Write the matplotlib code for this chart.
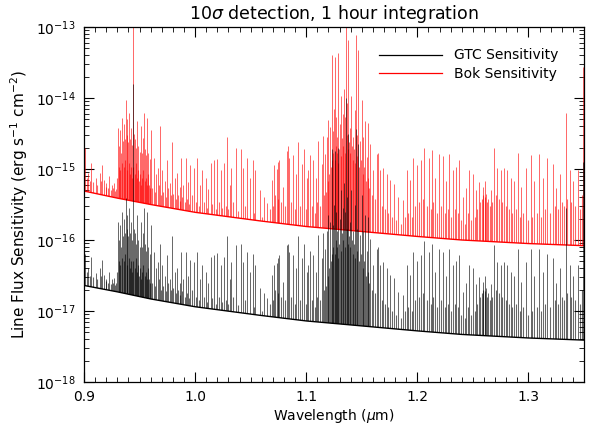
import numpy as np
import matplotlib
matplotlib.use("Agg")
import matplotlib.pyplot as plt
from matplotlib.patches import Polygon
from matplotlib.lines import Line2D
from matplotlib.ticker import MultipleLocator, FixedLocator, FormatStrFormatter, NullFormatter

# continuum floor of each curve, log10(flux) read at a few wavelengths
base_wl = [0.900, 0.930, 0.960, 1.000, 1.058, 1.100, 1.150, 1.200, 1.240, 1.300, 1.350]
gtc_base = [-16.64, -16.73, -16.83, -16.94, -17.06, -17.14, -17.21, -17.28, -17.33, -17.38, -17.41]
bok_base = [-15.31, -15.41, -15.50, -15.61, -15.73, -15.81, -15.88, -15.95, -16.00, -16.05, -16.08]

# strong sky lines: position (micron) and peak log10(flux) for each telescope
line_wl = [
    0.9010, 0.9040, 0.9066, 0.9105, 0.9140, 0.9160, 0.9180, 0.9200, 0.9225, 0.9250, 0.9270, 0.9290,
    0.9310, 0.9318, 0.9324, 0.9335, 0.9345, 0.9352, 0.9360, 0.9368, 0.9375, 0.9383, 0.9390, 0.9398,
    0.9405, 0.9415, 0.9425, 0.9435, 0.9444, 0.9452, 0.9462, 0.9470, 0.9480, 0.9490, 0.9500, 0.9510,
    0.9518, 0.9528, 0.9540, 0.9550, 0.9560, 0.9570, 0.9580, 0.9590, 0.9600, 0.9630, 0.9650, 0.9666,
    0.9685, 0.9705, 0.9725, 0.9744, 0.9770, 0.9795, 0.9815, 0.9840, 0.9860, 0.9876, 0.9895, 0.9915,
    0.9935, 0.9954, 0.9990, 1.0020, 1.0045, 1.0065, 1.0095, 1.0120, 1.0140, 1.0170, 1.0200, 1.0230,
    1.0260, 1.0290, 1.0310, 1.0326, 1.0365, 1.0410, 1.0434, 1.0470, 1.0495, 1.0518, 1.0540, 1.0584,
    1.0620, 1.0650, 1.0689, 1.0710, 1.0734, 1.0750, 1.0758, 1.0794, 1.0824, 1.0840, 1.0848, 1.0884,
    1.0910, 1.0929, 1.0959, 1.0980, 1.1005, 1.1019, 1.1034, 1.1064, 1.1085, 1.1109, 1.1139, 1.1154,
    1.1169, 1.1190, 1.1200, 1.1214, 1.1229, 1.1238, 1.1250, 1.1260, 1.1270, 1.1280, 1.1290, 1.1304,
    1.1315, 1.1328, 1.1340, 1.1350, 1.1358, 1.1368, 1.1380, 1.1392, 1.1405, 1.1424, 1.1436, 1.1448,
    1.1454, 1.1470, 1.1484, 1.1500, 1.1514, 1.1530, 1.1544, 1.1560, 1.1574, 1.1604, 1.1634, 1.1650,
    1.1664, 1.1694, 1.1724, 1.1754, 1.1790, 1.1829, 1.1874, 1.1904, 1.1934, 1.1964, 1.1994, 1.2033,
    1.2063, 1.2108, 1.2130, 1.2162, 1.2198, 1.2234, 1.2260, 1.2288, 1.2324, 1.2350, 1.2378, 1.2408,
    1.2440, 1.2468, 1.2500, 1.2528, 1.2555, 1.2588, 1.2605, 1.2620, 1.2640, 1.2660, 1.2693, 1.2720,
    1.2750, 1.2780, 1.2810, 1.2840, 1.2870, 1.2903, 1.2935, 1.2978, 1.3023, 1.3050, 1.3098, 1.3130,
    1.3164, 1.3218, 1.3250, 1.3280, 1.3335, 1.3370, 1.3400, 1.3443, 1.3494,
]
gtc_peak = [
    -16.20, -16.40, -16.24, -16.47, -16.40, -16.28, -16.49, -16.55, -16.45, -16.55, -16.54, -16.60,
    -15.74, -16.00, -15.79, -16.10, -15.60, -15.95, -15.70, -15.90, -15.41, -15.85, -15.65, -15.95,
    -15.55, -15.90, -15.75, -16.00, -13.80, -15.85, -15.90, -16.05, -15.65, -16.00, -16.10, -15.74,
    -16.10, -15.90, -15.55, -16.05, -16.15, -15.60, -16.10, -16.20, -15.79, -16.17, -16.40, -16.31,
    -16.05, -16.35, -16.50, -16.21, -16.55, -15.95, -16.45, -16.40, -16.60, -16.17, -16.55, -16.17,
    -16.50, -16.28, -16.31, -16.17, -16.55, -16.35, -16.45, -16.60, -16.24, -16.21, -16.19, -16.35,
    -16.24, -15.95, -16.55, -16.31, -16.07, -16.06, -16.31, -16.17, -16.45, -16.20, -16.35, -16.68,
    -16.75, -16.82, -16.49, -16.35, -16.33, -16.25, -16.21, -16.59, -16.07, -16.05, -16.17, -16.21,
    -16.40, -15.95, -16.26, -16.05, -16.45, -16.35, -16.15, -16.21, -16.45, -15.93, -16.26, -15.90,
    -16.12, -15.88, -15.65, -15.74, -14.72, -15.79, -15.50, -14.75, -15.60, -15.88, -14.70, -15.70,
    -15.30, -15.55, -15.20, -15.60, -14.00, -15.40, -14.51, -15.75, -15.30, -15.88, -15.50, -14.44,
    -15.85, -14.65, -15.93, -15.36, -15.88, -15.65, -16.16, -15.68, -15.98, -16.35, -16.12, -16.10,
    -16.35, -16.31, -16.40, -16.49, -16.54, -16.73, -16.77, -16.35, -16.49, -16.17, -16.30, -16.21,
    -16.02, -16.17, -16.05, -16.45, -16.12, -16.17, -16.50, -16.12, -16.35, -16.30, -16.21, -16.73,
    -16.60, -16.35, -16.40, -16.62, -16.52, -16.59, -16.50, -16.68, -16.75, -16.62, -16.07, -16.31,
    -16.35, -16.31, -16.35, -16.45, -16.50, -16.12, -16.59, -16.31, -16.12, -16.50, -16.12, -16.45,
    -16.20, -16.26, -16.60, -16.40, -15.55, -16.35, -16.50, -16.35, -14.90,
]
bok_peak = [
    -14.71, -15.05, -14.92, -15.12, -15.05, -14.94, -15.15, -15.20, -15.10, -15.22, -15.20, -15.28,
    -14.42, -14.68, -14.45, -14.78, -14.28, -14.60, -14.36, -14.58, -14.03, -14.52, -14.30, -14.62,
    -14.21, -14.58, -14.42, -14.66, -12.50, -14.50, -14.58, -14.70, -14.32, -14.68, -14.76, -14.40,
    -14.78, -14.56, -14.21, -14.72, -14.80, -14.28, -14.78, -14.86, -14.45, -14.84, -15.07, -14.98,
    -14.40, -15.02, -15.17, -14.88, -15.20, -14.62, -15.12, -15.06, -15.26, -14.84, -15.22, -14.84,
    -15.18, -14.95, -14.98, -14.84, -15.22, -15.02, -15.12, -15.28, -14.91, -14.88, -14.86, -15.02,
    -14.91, -14.55, -15.22, -14.98, -14.70, -14.72, -14.98, -14.84, -15.12, -14.88, -15.02, -15.30,
    -15.40, -15.48, -15.16, -14.95, -15.00, -14.90, -14.88, -15.26, -14.74, -14.68, -14.84, -14.80,
    -15.07, -14.62, -14.93, -14.72, -15.12, -15.02, -14.80, -14.88, -15.12, -14.60, -14.93, -14.54,
    -14.79, -14.55, -14.31, -14.41, -13.39, -14.46, -14.15, -13.42, -14.27, -14.55, -13.37, -14.37,
    -13.97, -14.22, -13.87, -14.27, -12.60, -14.07, -13.18, -14.42, -13.97, -14.55, -14.17, -13.11,
    -14.52, -13.32, -14.60, -14.03, -14.55, -14.32, -14.83, -14.35, -14.65, -15.02, -14.79, -14.78,
    -15.02, -14.98, -15.07, -15.16, -15.21, -15.40, -15.44, -15.02, -15.16, -14.84, -14.95, -14.88,
    -14.70, -14.84, -14.73, -15.12, -14.79, -14.82, -15.17, -14.79, -15.02, -14.97, -14.88, -15.40,
    -15.27, -15.02, -15.07, -15.29, -15.19, -15.26, -15.17, -15.35, -15.42, -15.29, -14.70, -14.98,
    -15.02, -14.98, -15.02, -15.12, -15.17, -14.78, -15.26, -14.98, -14.80, -15.17, -14.79, -15.12,
    -14.85, -14.93, -15.27, -15.07, -14.21, -15.02, -15.17, -15.02, -13.56,
]

# weaker lines that fill the forest just above the continuum
faint_wl = [
    0.9025, 0.9055, 0.9085, 0.9120, 0.9150, 0.9195, 0.9215, 0.9240, 0.9260, 0.9282, 0.9300, 0.9314,
    0.9328, 0.9340, 0.9357, 0.9372, 0.9387, 0.9402, 0.9410, 0.9420, 0.9430, 0.9440, 0.9457, 0.9466,
    0.9475, 0.9485, 0.9495, 0.9505, 0.9514, 0.9523, 0.9534, 0.9545, 0.9555, 0.9565, 0.9575, 0.9585,
    0.9595, 0.9615, 0.9640, 0.9675, 0.9695, 0.9715, 0.9735, 0.9755, 0.9782, 0.9805, 0.9828, 0.9850,
    0.9868, 0.9885, 0.9905, 0.9925, 0.9945, 0.9970, 1.0005, 1.0035, 1.0080, 1.0110, 1.0155, 1.0185,
    1.0215, 1.0245, 1.0275, 1.0300, 1.0340, 1.0390, 1.0450, 1.0530, 1.0600, 1.0670, 1.0700, 1.0720,
    1.0742, 1.0770, 1.0810, 1.0865, 1.0900, 1.0945, 1.0995, 1.1050, 1.1075, 1.1100, 1.1125, 1.1160,
    1.1180, 1.1195, 1.1207, 1.1220, 1.1233, 1.1244, 1.1255, 1.1265, 1.1275, 1.1285, 1.1297, 1.1310,
    1.1322, 1.1334, 1.1345, 1.1363, 1.1374, 1.1386, 1.1398, 1.1412, 1.1418, 1.1430, 1.1442, 1.1460,
    1.1477, 1.1492, 1.1507, 1.1522, 1.1537, 1.1552, 1.1567, 1.1590, 1.1620, 1.1680, 1.1710, 1.1740,
    1.1775, 1.1810, 1.1850, 1.1890, 1.1920, 1.1950, 1.1980, 1.2015, 1.2050, 1.2085, 1.2120, 1.2145,
    1.2180, 1.2215, 1.2250, 1.2275, 1.2305, 1.2340, 1.2365, 1.2395, 1.2425, 1.2455, 1.2485, 1.2515,
    1.2540, 1.2565, 1.2578, 1.2595, 1.2612, 1.2630, 1.2650, 1.2675, 1.2705, 1.2735, 1.2765, 1.2795,
    1.2825, 1.2855, 1.2885, 1.2920, 1.2955, 1.3000, 1.3035, 1.3075, 1.3115, 1.3145, 1.3190, 1.3235,
    1.3265, 1.3300, 1.3320, 1.3350, 1.3385, 1.3420, 1.3460, 1.3480,
]
gtc_faint = [
    -16.45, -16.50, -16.52, -16.55, -16.50, -16.58, -16.60, -16.62, -16.60, -16.64, -16.45, -16.30,
    -16.35, -16.25, -16.30, -16.20, -16.35, -16.25, -16.40, -16.30, -16.45, -16.30, -16.40, -16.25,
    -16.45, -16.35, -16.50, -16.40, -16.55, -16.45, -16.35, -16.50, -16.45, -16.55, -16.40, -16.55,
    -16.60, -16.60, -16.65, -16.55, -16.70, -16.65, -16.72, -16.60, -16.70, -16.68, -16.75, -16.70,
    -16.78, -16.72, -16.80, -16.75, -16.82, -16.70, -16.80, -16.85, -16.80, -16.88, -16.82, -16.90,
    -16.80, -16.88, -16.85, -16.90, -16.80, -16.92, -16.85, -16.95, -17.00, -16.90, -16.85, -16.70,
    -16.75, -16.80, -16.85, -16.80, -16.90, -16.85, -16.90, -16.85, -16.95, -16.80, -16.85, -16.70,
    -16.65, -16.50, -16.40, -16.30, -16.20, -16.10, -16.20, -16.00, -16.10, -16.25, -16.05, -16.15,
    -15.90, -16.00, -16.10, -15.85, -16.05, -15.95, -16.10, -16.00, -16.20, -16.05, -16.25, -16.15,
    -16.30, -16.20, -16.40, -16.30, -16.50, -16.45, -16.60, -16.70, -16.75, -16.85, -16.90, -16.95,
    -17.00, -17.05, -17.10, -17.00, -16.95, -17.00, -16.85, -16.80, -16.75, -16.85, -16.90, -16.80,
    -16.95, -16.85, -16.95, -16.90, -17.00, -16.90, -16.95, -17.05, -17.10, -16.95, -17.05, -17.00,
    -16.90, -16.80, -16.75, -16.70, -16.72, -16.80, -16.85, -16.80, -16.70, -16.75, -16.80, -16.85,
    -16.90, -16.95, -16.90, -17.00, -16.95, -17.05, -17.00, -16.95, -17.00, -16.90, -16.95, -16.85,
    -16.90, -16.80, -16.85, -16.75, -16.80, -16.85, -16.90, -16.70,
]
bok_faint = [
    -15.12, -15.17, -15.19, -15.22, -15.17, -15.25, -15.27, -15.29, -15.27, -15.31, -15.12, -14.97,
    -15.02, -14.92, -14.97, -14.87, -15.02, -14.92, -15.07, -14.97, -15.12, -14.97, -15.07, -14.92,
    -15.12, -15.02, -15.17, -15.07, -15.22, -15.12, -15.02, -15.17, -15.12, -15.22, -15.07, -15.22,
    -15.27, -15.27, -15.32, -15.22, -15.37, -15.32, -15.39, -15.27, -15.37, -15.35, -15.42, -15.37,
    -15.45, -15.39, -15.47, -15.42, -15.49, -15.37, -15.47, -15.52, -15.47, -15.55, -15.49, -15.57,
    -15.47, -15.55, -15.52, -15.57, -15.47, -15.59, -15.52, -15.62, -15.67, -15.57, -15.52, -15.37,
    -15.42, -15.47, -15.52, -15.47, -15.57, -15.52, -15.57, -15.52, -15.62, -15.47, -15.52, -15.37,
    -15.32, -15.17, -15.07, -14.97, -14.87, -14.77, -14.87, -14.67, -14.77, -14.92, -14.72, -14.82,
    -14.57, -14.67, -14.77, -14.52, -14.72, -14.62, -14.77, -14.67, -14.87, -14.72, -14.92, -14.82,
    -14.97, -14.87, -15.07, -14.97, -15.17, -15.12, -15.27, -15.37, -15.42, -15.52, -15.57, -15.62,
    -15.67, -15.72, -15.77, -15.67, -15.62, -15.67, -15.52, -15.47, -15.42, -15.52, -15.57, -15.47,
    -15.62, -15.52, -15.62, -15.57, -15.67, -15.57, -15.62, -15.72, -15.77, -15.62, -15.72, -15.67,
    -15.57, -15.47, -15.42, -15.37, -15.39, -15.47, -15.52, -15.47, -15.37, -15.42, -15.47, -15.52,
    -15.57, -15.62, -15.57, -15.67, -15.62, -15.72, -15.67, -15.62, -15.67, -15.57, -15.62, -15.52,
    -15.57, -15.47, -15.52, -15.42, -15.47, -15.52, -15.57, -15.37,
]

y_major = [1e-18, 1e-17, 1e-16, 1e-15, 1e-14, 1e-13]

fig = plt.figure(figsize=(6.1, 4.36), dpi=100)
ax = fig.add_axes([84 / 610, 1 - 382 / 436, 500 / 610, 355 / 436])
ax.set_yscale('log')


def draw_curve(base, peak, faint, color, z):
    bx = np.array(base_wl)
    by = 10.0 ** np.array(base)
    # area above the continuum, the line spikes only show inside it
    verts = list(zip(bx, by)) + [(bx[-1], 1e-10), (bx[0], 1e-10)]
    region = Polygon(verts, closed=True, facecolor='none', edgecolor='none')
    ax.add_patch(region)
    weak = ax.vlines(faint_wl, 1e-19, 10.0 ** np.array(faint), colors=color,
                     lw=0.8, alpha=0.6, zorder=z)
    weak.set_clip_path(region)
    spikes = ax.vlines(line_wl, 1e-19, 10.0 ** np.array(peak), colors=color,
                       lw=0.7, alpha=0.6, zorder=z)
    spikes.set_clip_path(region)
    ax.plot(bx, by, color=color, lw=1.0, zorder=z)


draw_curve(bok_base, bok_peak, bok_faint, 'red', 2)
draw_curve(gtc_base, gtc_peak, gtc_faint, 'black', 3)

ax.set_xlim(0.9, 1.35)
ax.set_ylim(1e-18, 1e-13)

ax.xaxis.set_major_locator(MultipleLocator(0.1))
ax.xaxis.set_minor_locator(MultipleLocator(0.01))
ax.xaxis.set_major_formatter(FormatStrFormatter('%.1f'))
ax.yaxis.set_major_locator(FixedLocator(y_major))
ax.yaxis.set_minor_locator(FixedLocator([m * d for d in y_major[:-1] for m in range(2, 10)]))
ax.yaxis.set_minor_formatter(NullFormatter())
ax.tick_params(which='both', direction='in', top=True, right=True, labelsize=10)
ax.tick_params(which='major', length=7, width=0.8, pad=6)
ax.tick_params(which='minor', length=3.5, width=0.6)
for s in ax.spines.values():
    s.set_linewidth(0.9)

ax.set_title(r'10$\sigma$ detection, 1 hour integration', fontsize=12.5, pad=6)
ax.set_xlabel(r'Wavelength ($\mu$m)', fontsize=10, labelpad=2)
ax.set_ylabel(r'Line Flux Sensitivity (erg s$^{-1}$ cm$^{-2}$)', fontsize=11)

handles = [Line2D([], [], color='black', lw=0.9), Line2D([], [], color='red', lw=0.9)]
ax.legend(handles, ['GTC Sensitivity', 'Bok Sensitivity'], loc='upper left',
          bbox_to_anchor=(0.565, 0.975), frameon=False, fontsize=10,
          handlelength=4.5, handletextpad=0.9, labelspacing=0.3)

fig.savefig('out.png', dpi=100)
